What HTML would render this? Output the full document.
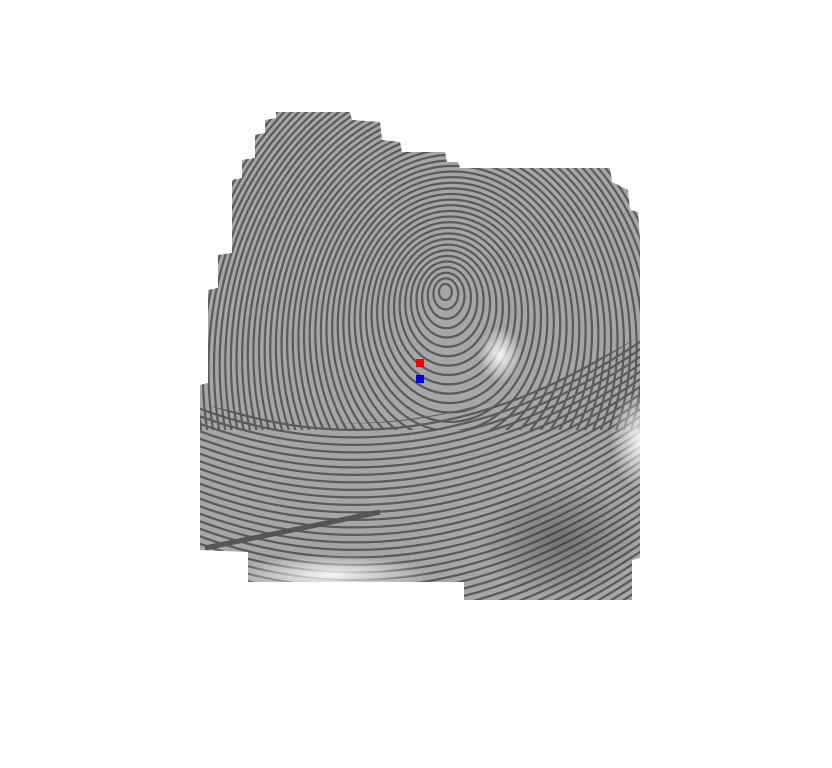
<!DOCTYPE html>
<html><head><meta charset="utf-8"><style>
html,body{margin:0;padding:0;background:#fff;width:832px;height:768px;overflow:hidden}
#wrap{position:relative;width:832px;height:768px;overflow:hidden}
svg{display:block;position:absolute;left:0;top:0}
</style></head><body>
<div id="wrap">
<svg id="chart" width="832" height="768" viewBox="0 0 832 768" xmlns="http://www.w3.org/2000/svg">
<defs>
<clipPath id="fpclip">
<polygon points="276,112 350,112 352,120 380,122 382,140 400,142 402,152 445,152 447,162 458,162 460,168 610,168 612,182 628,190 630,210 638,212 640,240 640,558 632,560 632,600 464,600 464,582 248,582 248,552 200,550 200,385 208,383 208,290 218,288 218,255 232,253 232,180 242,178 242,160 255,158 255,135 265,133 265,120 276,118"/>
</clipPath>
<clipPath id="upper"><rect x="190" y="100" width="460" height="330"/></clipPath>
<clipPath id="lower"><path d="M190 400 Q 420 470 650 330 L650 610 L190 610 Z"/></clipPath>
<radialGradient id="lightR" cx="0.5" cy="0.5" r="0.5"><stop offset="0" stop-color="#fff" stop-opacity="0.9"/><stop offset="1" stop-color="#fff" stop-opacity="0"/></radialGradient>
<radialGradient id="darkR" cx="0.5" cy="0.5" r="0.5"><stop offset="0" stop-color="#333" stop-opacity="0.45"/><stop offset="1" stop-color="#333" stop-opacity="0"/></radialGradient>
</defs>
<g clip-path="url(#fpclip)">
<rect x="190" y="100" width="460" height="510" fill="#a6a6a6"/>
<g id="ridges" fill="none" stroke="#5a5a5a" stroke-width="2.2" clip-path="url(#upper)"></g>
<g id="ridges2" fill="none" stroke="#5a5a5a" stroke-width="2.2" clip-path="url(#lower)"></g>
<ellipse cx="560" cy="540" rx="80" ry="60" fill="url(#darkR)"/>
<ellipse cx="500" cy="355" rx="22" ry="28" fill="url(#lightR)"/>
<ellipse cx="640" cy="440" rx="30" ry="50" fill="url(#lightR)"/>
<ellipse cx="330" cy="575" rx="100" ry="20" fill="url(#lightR)"/>
<line x1="205" y1="548" x2="380" y2="512" stroke="#555" stroke-width="5"/>
</g>
<g id="markers"></g>
</svg>
</div>
<script>
const markerLabels = ["core-red", "core-blue"];
const markerX = [420, 420];
const markerY = [363, 379];
const markerColors = ["#ff0000", "#0000ff"];

const NS = "http://www.w3.org/2000/svg";
const ridges = document.getElementById("ridges");
const ridges2 = document.getElementById("ridges2");
for (let r = 8; r < 420; r += 7.5) {
  const e = document.createElementNS(NS, "ellipse");
  e.setAttribute("cx", 445 + r * 0.05);
  e.setAttribute("cy", 290 + r * 0.25);
  e.setAttribute("rx", r * 0.8);
  e.setAttribute("ry", r);
  
  
  ridges.appendChild(e);
}
for (let k = 0; k < 48; k++) {
  const p = document.createElementNS(NS, "path");
  const y = 400 + k * 7.5;
  p.setAttribute("d", `M190 ${y - 40} Q 420 ${y + 50} 650 ${y - 110}`);
  
  
  ridges2.appendChild(p);
}
const mg = document.getElementById("markers");
for (let i = 0; i < markerX.length; i++) {
  const r = document.createElementNS(NS, "rect");
  r.setAttribute("x", markerX[i] - 4);
  r.setAttribute("y", markerY[i] - 4);
  r.setAttribute("width", 8);
  r.setAttribute("height", 8);
  r.setAttribute("fill", markerColors[i]);
  
  
  mg.appendChild(r);
}
</script>
</body></html>
